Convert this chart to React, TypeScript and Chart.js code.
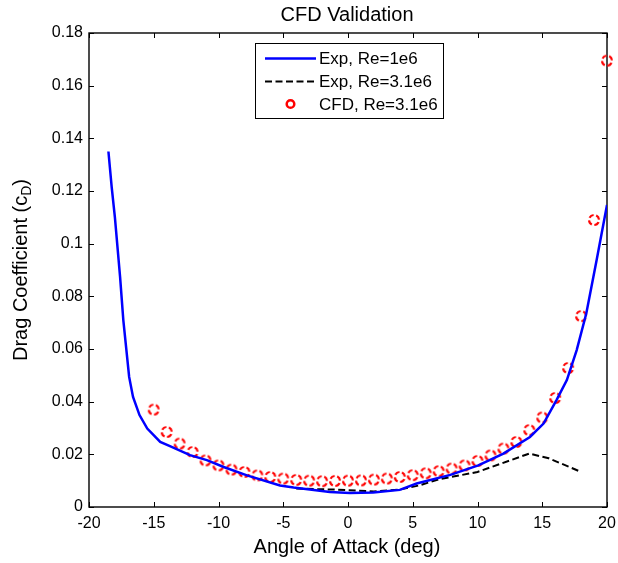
import React, { useEffect, useRef } from 'react';
import { Chart, registerables } from 'chart.js';
Chart.register(...registerables);

// Exp, Re=1e6 (blue solid)
const expRe1e6Alpha = [-18.5, -18.25, -18.0, -17.6, -17.35, -16.9, -16.6, -16.1, -15.5, -14.5, -13.75, -12.2, -10.9, -9.6, -7.8, -5.25, -4.2, -1.4, 0.15, 1.95, 4.0, 5.3, 7.9, 10.06, 12.0, 14.05, 15.1, 16.1, 16.9, 17.66, 18.4, 19.2, 20];
const expRe1e6Cd = [0.135, 0.1216, 0.110, 0.0874, 0.071, 0.0494, 0.0418, 0.0349, 0.0298, 0.0247, 0.0231, 0.0197, 0.0178, 0.0152, 0.012, 0.0082, 0.0074, 0.0057, 0.0053, 0.0055, 0.0065, 0.0089, 0.0122, 0.0158, 0.0203, 0.0266, 0.0317, 0.0406, 0.0482, 0.0596, 0.0735, 0.0938, 0.1147];

// Exp, Re=3.1e6 (black dashed)
const expRe31e6Alpha = [-4, -1, 2, 4, 5.5, 7, 10, 14, 15.5, 18];
const expRe31e6Cd = [0.0070, 0.0066, 0.0059, 0.0066, 0.0082, 0.0105, 0.0133, 0.0203, 0.0185, 0.0133];

// CFD, Re=3.1e6 (red circles)
const cfdAlpha = [-15, -14, -13, -12, -11, -10, -9, -8, -7, -6, -5, -4, -3, -2, -1, 0, 1, 2, 3, 4, 5, 6, 7, 8, 9, 10, 11, 12, 13, 14, 15, 16, 17, 18, 19, 20];
const cfdCd = [0.037, 0.0285, 0.0241, 0.0209, 0.0177, 0.0158, 0.0142, 0.0133, 0.012, 0.0114, 0.0108, 0.0103, 0.0100, 0.0098, 0.0099, 0.0100, 0.0101, 0.0104, 0.0108, 0.0114, 0.0121, 0.0128, 0.0136, 0.0146, 0.0158, 0.0175, 0.0196, 0.0222, 0.0247, 0.0292, 0.034, 0.0414, 0.0528, 0.0725, 0.109, 0.1695];

const xTicks = [-20, -15, -10, -5, 0, 5, 10, 15, 20];
const yTicks = [0, 0.02, 0.04, 0.06, 0.08, 0.1, 0.12, 0.14, 0.16, 0.18];

const seriesLabels = ['Exp, Re=1e6', 'Exp, Re=3.1e6', 'CFD, Re=3.1e6'];
const titleText = 'CFD Validation';
const xLabel = 'Angle of Attack (deg)';
const yLabelMain = 'Drag Coefficient (c';
const yLabelSub = 'D';
const yLabelEnd = ')';

const FONT = '"Liberation Sans", Arial, Helvetica, sans-serif';

function makeDashedCircle(): HTMLCanvasElement {
  const c = document.createElement('canvas');
  c.width = 16;
  c.height = 16;
  const g = c.getContext('2d')!;
  g.strokeStyle = '#ff0000';
  g.lineWidth = 2.2;
  g.setLineDash([5, 2.6]);
  g.beginPath();
  g.arc(8, 8, 5, Math.PI * 0.15, Math.PI * 2.15);
  g.stroke();
  return c;
}

const decorPlugin = {
  id: 'decor',
  beforeDatasetsDraw(chart: any) {
    const { ctx, chartArea } = chart;
    const { left, right, top, bottom } = chartArea;
    const xs = chart.scales.x;
    const ys = chart.scales.y;
    ctx.save();
    ctx.strokeStyle = '#000';
    ctx.lineWidth = 1.4;
    ctx.strokeRect(left, top, right - left, bottom - top);
    ctx.lineWidth = 1;
    const tl = 5;
    ctx.beginPath();
    xTicks.forEach((v) => {
      const px = Math.round(xs.getPixelForValue(v)) + 0.5;
      ctx.moveTo(px, bottom);
      ctx.lineTo(px, bottom - tl);
      ctx.moveTo(px, top);
      ctx.lineTo(px, top + tl);
    });
    yTicks.forEach((v) => {
      const py = Math.round(ys.getPixelForValue(v)) + 0.5;
      ctx.moveTo(left, py);
      ctx.lineTo(left + tl, py);
      ctx.moveTo(right, py);
      ctx.lineTo(right - tl, py);
    });
    ctx.stroke();
    ctx.restore();
  },
  afterDraw(chart: any) {
    const { ctx, chartArea } = chart;
    const { left, right, top, bottom } = chartArea;
    const cx = (left + right) / 2;
    const cy = (top + bottom) / 2;
    ctx.save();
    ctx.fillStyle = '#000';
    ctx.font = `20px ${FONT}`;
    ctx.textAlign = 'center';
    ctx.textBaseline = 'middle';
    ctx.fillText(titleText, cx - 1, 15);
    ctx.fillText(xLabel, cx - 1, 547);
    ctx.save();
    ctx.translate(21, cy);
    ctx.rotate(-Math.PI / 2);
    ctx.textAlign = 'left';
    ctx.textBaseline = 'middle';
    ctx.font = `20px ${FONT}`;
    const w1 = ctx.measureText(yLabelMain).width;
    const w3 = ctx.measureText(yLabelEnd).width;
    ctx.font = `14px ${FONT}`;
    const w2 = ctx.measureText(yLabelSub).width;
    const total = w1 + w2 + w3;
    const x0 = -total / 2;
    ctx.font = `20px ${FONT}`;
    ctx.fillText(yLabelMain, x0, 0);
    ctx.font = `14px ${FONT}`;
    ctx.fillText(yLabelSub, x0 + w1, 6);
    ctx.font = `20px ${FONT}`;
    ctx.fillText(yLabelEnd, x0 + w1 + w2, 0);
    ctx.restore();

    // legend
    const bx = 255, by = 43, bw = 188, bh = 75;
    ctx.fillStyle = '#fff';
    ctx.fillRect(bx, by, bw, bh);
    ctx.strokeStyle = '#000';
    ctx.lineWidth = 1;
    ctx.strokeRect(bx + 0.5, by + 0.5, bw, bh);
    const rows = [58.5, 81.5, 104];
    const lx1 = 265, lx2 = 316;
    ctx.strokeStyle = '#0000ff';
    ctx.lineWidth = 2.5;
    ctx.beginPath();
    ctx.moveTo(lx1, rows[0]);
    ctx.lineTo(lx2, rows[0]);
    ctx.stroke();
    ctx.strokeStyle = '#000';
    ctx.lineWidth = 2;
    ctx.setLineDash([7, 3.5]);
    ctx.beginPath();
    ctx.moveTo(lx1, rows[1]);
    ctx.lineTo(lx2, rows[1]);
    ctx.stroke();
    ctx.setLineDash([]);
    ctx.strokeStyle = '#ff0000';
    ctx.lineWidth = 2.5;
    ctx.beginPath();
    ctx.arc((lx1 + lx2) / 2, rows[2], 3.8, 0, Math.PI * 2);
    ctx.stroke();
    ctx.fillStyle = '#000';
    ctx.font = `17px ${FONT}`;
    ctx.textAlign = 'left';
    ctx.textBaseline = 'middle';
    seriesLabels.forEach((t, i) => ctx.fillText(t, 319, rows[i] + 1));
    ctx.restore();
  },
};

export default function App() {
  const ref = useRef<HTMLCanvasElement>(null);
  useEffect(() => {
    document.body.style.margin = '0';
    const canvas = ref.current!;
    const circle = makeDashedCircle();
    const chart = new Chart(canvas, {
      type: 'scatter',
      data: {
        datasets: [
          {
            label: seriesLabels[0],
            data: expRe1e6Alpha.map((x, i) => ({ x, y: expRe1e6Cd[i] })),
            showLine: true,
            borderColor: '#0000ff',
            borderWidth: 2.5,
            pointRadius: 0,
            tension: 0,
          },
          {
            label: seriesLabels[1],
            data: expRe31e6Alpha.map((x, i) => ({ x, y: expRe31e6Cd[i] })),
            showLine: true,
            borderColor: '#000000',
            borderWidth: 2,
            borderDash: [7, 3.5],
            pointRadius: 0,
            tension: 0,
          },
          {
            label: seriesLabels[2],
            data: cfdAlpha.map((x, i) => ({ x, y: cfdCd[i] })),
            showLine: false,
            pointStyle: circle as any,
            pointRadius: 6,
            clip: false as any,
          },
        ],
      },
      options: {
        animation: false,
        responsive: false,
        devicePixelRatio: 1,
        layout: { padding: { left: 0, top: 33, right: 11, bottom: 0 } },
        plugins: {
          legend: { display: false },
          tooltip: { enabled: false },
          title: { display: false },
        },
        scales: {
          x: {
            type: 'linear',
            min: -20,
            max: 20,
            afterBuildTicks: (s: any) => {
              s.ticks = xTicks.map((v) => ({ value: v }));
            },
            afterFit: (s: any) => {
              s.height = 56;
              s.paddingLeft = 0;
              s.paddingRight = 0;
            },
            grid: { display: false, drawTicks: false },
            border: { display: false },
            ticks: {
              color: '#000',
              font: { family: FONT, size: 16 },
              padding: 7,
              maxRotation: 0,
              autoSkip: false,
              callback: (v: any) => String(v),
            },
          },
          y: {
            type: 'linear',
            min: 0,
            max: 0.18,
            afterBuildTicks: (s: any) => {
              s.ticks = yTicks.map((v) => ({ value: v }));
            },
            afterFit: (s: any) => {
              s.width = 89;
              s.paddingTop = 0;
              s.paddingBottom = 0;
            },
            grid: { display: false, drawTicks: false },
            border: { display: false },
            ticks: {
              color: '#000',
              font: { family: FONT, size: 16 },
              padding: 6,
              autoSkip: false,
              callback: (v: any) => String(Number(Number(v).toFixed(2))),
            },
          },
        },
      },
      plugins: [decorPlugin],
    });
    return () => chart.destroy();
  }, []);
  return (
    <div style={{ width: 618, height: 563 }}>
      <canvas ref={ref} width={618} height={563} />
    </div>
  );
}
